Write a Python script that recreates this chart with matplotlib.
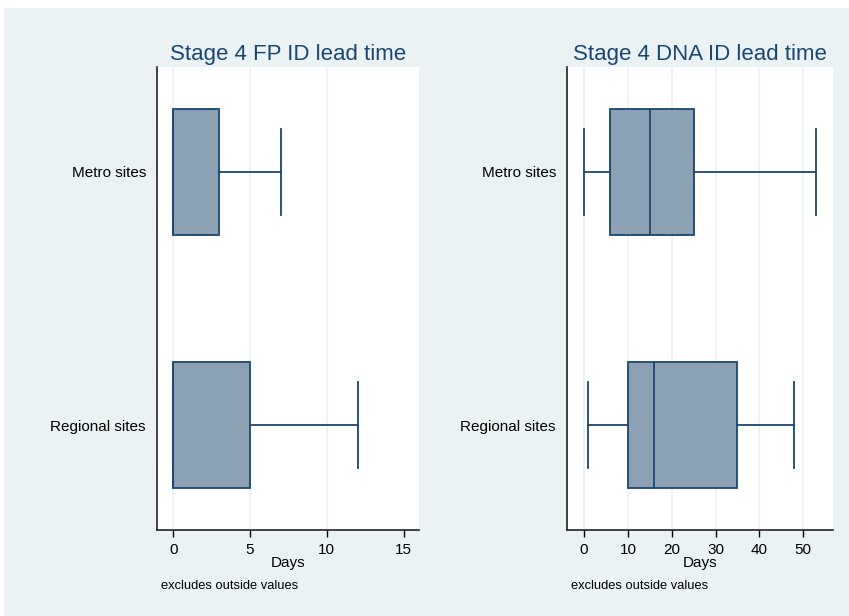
import matplotlib
matplotlib.use("Agg")
import matplotlib.pyplot as plt
from matplotlib.patches import Rectangle

plt.rcParams['font.family'] = ['Liberation Sans', 'DejaVu Sans']

# site groups, top to bottom
sites = ["Metro sites", "Regional sites"]

# Stage 4 FP ID lead time (days): lower whisker, q1, median, q3, upper whisker
fp_whislo = [0, 0]
fp_q1 = [0, 0]
fp_med = [0, 0]
fp_q3 = [3, 5]
fp_whishi = [7, 12]

# Stage 4 DNA ID lead time (days)
dna_whislo = [0, 1]
dna_q1 = [6, 10]
dna_med = [15, 16]
dna_q3 = [25, 35]
dna_whishi = [53, 48]

fp_ticks = [0, 5, 10, 15]
dna_ticks = [0, 10, 20, 30, 40, 50]

BG = "#EAF2F3"
NAVY = "#1A476F"
FILL = "#8DA1B4"

W, H = 849, 616
fig = plt.figure(figsize=(W / 100, H / 100), dpi=100, facecolor="white")
fig.patches.append(Rectangle((4 / W, 0), 1, (H - 8) / H, transform=fig.transFigure,
                             facecolor=BG, edgecolor="none", zorder=-10))

# title of the whole graph, only its descenders show at the top edge of the image
fig.text(0.60, 1 + 6 / H, "Lead time by site category (grouped by type of ID, days)",
         ha="center", va="baseline", fontsize=18, fontweight="bold", color="black")


def make_stats(whislo, q1, med, q3, whishi):
    return [dict(whislo=a, q1=b, med=c, q3=d, whishi=e, fliers=[])
            for a, b, c, d, e in zip(whislo, q1, med, q3, whishi)]


def draw_panel(rect, stats, title, ticks, xlim, hide_last_grid=False):
    ax = fig.add_axes(rect)
    ax.set_facecolor("white")
    ax.bxp(stats, positions=list(range(len(sites))), orientation="horizontal",
           widths=0.5, capwidths=0.336, patch_artist=True, showfliers=False,
           boxprops=dict(facecolor=FILL, edgecolor=NAVY, linewidth=1.3),
           medianprops=dict(color=NAVY, linewidth=1.3),
           whiskerprops=dict(color=NAVY, linewidth=1.3),
           capprops=dict(color=NAVY, linewidth=1.3))
    ax.set_ylim(len(sites) - 1 + 0.415, -0.415)
    ax.set_yticks(range(len(sites)))
    ax.set_yticklabels(sites, fontsize=11)
    ax.tick_params(axis="y", length=0, pad=8)
    ax.set_xlim(*xlim)
    ax.set_xticks(ticks)
    ax.tick_params(axis="x", length=5, width=1, labelsize=11, pad=4)
    ax.grid(axis="x", color=BG, linewidth=1.2)
    ax.set_axisbelow(True)
    if hide_last_grid:
        ax.xaxis.get_gridlines()[-1].set_visible(False)
    for s in ["top", "right"]:
        ax.spines[s].set_visible(False)
    for s in ["left", "bottom"]:
        ax.spines[s].set_color("#222222")
        ax.spines[s].set_linewidth(1.2)
    ax.set_title(title, fontsize=16, color=NAVY, pad=5)
    ax.set_xlabel("Days", fontsize=11, labelpad=0)
    ax.text(0.016, -0.127, "excludes outside values", transform=ax.transAxes,
            fontsize=9.3, ha="left", va="baseline")
    return ax


bottom = (H - 530) / H
height = 463 / H
draw_panel([157 / W, bottom, 262 / W, height],
           make_stats(fp_whislo, fp_q1, fp_med, fp_q3, fp_whishi),
           "Stage 4 FP ID lead time", fp_ticks, (-1.06, 16.0), hide_last_grid=True)
draw_panel([567 / W, bottom, 266 / W, height],
           make_stats(dna_whislo, dna_q1, dna_med, dna_q3, dna_whishi),
           "Stage 4 DNA ID lead time", dna_ticks, (-3.9, 56.8))

fig.savefig("out.png", dpi=100, facecolor=fig.get_facecolor())
